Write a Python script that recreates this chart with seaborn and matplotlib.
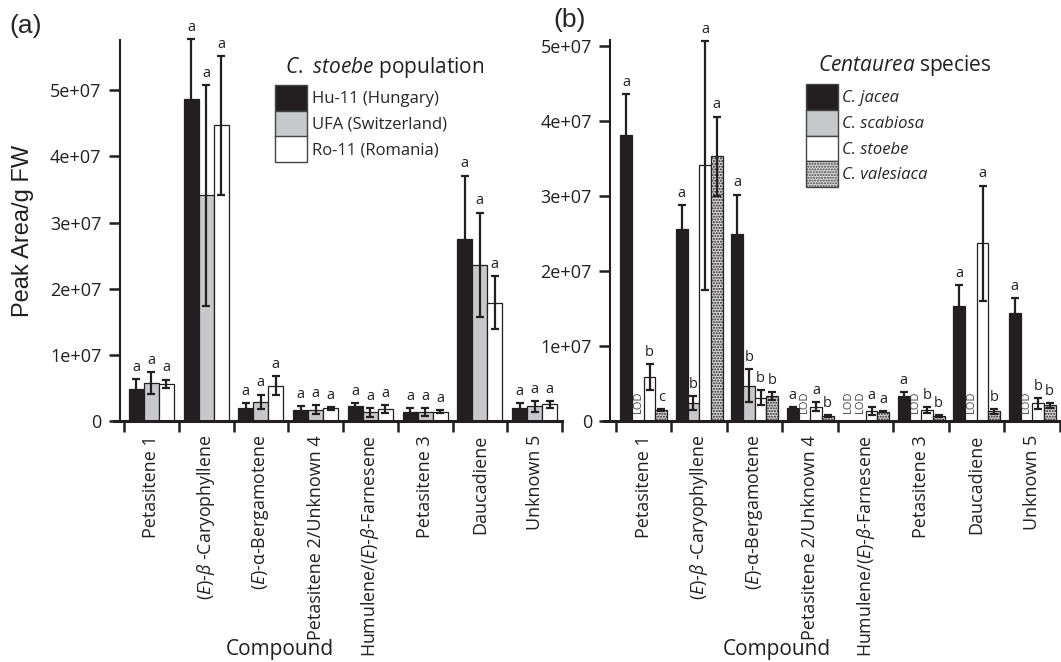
import numpy as np
import pandas as pd
import seaborn as sns
from matplotlib import pyplot as plt
from matplotlib.patches import Patch
from matplotlib.ticker import FuncFormatter

sns.set_style("ticks")
plt.rcParams["font.family"] = ["Open Sans", "DejaVu Sans"]
plt.rcParams["mathtext.fontset"] = "custom"
plt.rcParams["mathtext.rm"] = "Open Sans"
plt.rcParams["mathtext.it"] = "Open Sans:italic"
plt.rcParams["mathtext.bf"] = "Open Sans:bold"
plt.rcParams["hatch.color"] = "#555555"
plt.rcParams["hatch.linewidth"] = 1.0

# compounds (x axis, both panels)
compounds = ["Petasitene 1", r"($\mathit{E}$)-$\mathit{β}$ -Caryophyllene", r"($\mathit{E}$)-α-Bergamotene",
             "Petasitene 2/Unknown 4", r"Humulene/($\mathit{E}$)-$\mathit{β}$-Farnesene",
             "Petasitene 3", "Daucadiene", "Unknown 5"]

# panel (a): C. stoebe populations (means and SE, peak area / g FW)
pops = ["Hu-11 (Hungary)", "UFA (Switzerland)", "Ro-11 (Romania)"]
hu11 = [0.48e7, 4.87e7, 0.20e7, 0.17e7, 0.23e7, 0.14e7, 2.75e7, 0.20e7]
hu11_se = [0.15e7, 0.91e7, 0.07e7, 0.06e7, 0.04e7, 0.05e7, 0.96e7, 0.07e7]
ufa = [0.575e7, 3.41e7, 0.29e7, 0.17e7, 0.13e7, 0.13e7, 2.36e7, 0.22e7]
ufa_se = [0.17e7, 1.67e7, 0.11e7, 0.065e7, 0.07e7, 0.06e7, 0.79e7, 0.08e7]
ro11 = [0.565e7, 4.47e7, 0.535e7, 0.19e7, 0.18e7, 0.14e7, 1.79e7, 0.25e7]
ro11_se = [0.06e7, 1.05e7, 0.14e7, 0.02e7, 0.06e7, 0.025e7, 0.40e7, 0.05e7]
letters_a = [["a"] * 8, ["a"] * 8, ["a"] * 8]

# panel (b): Centaurea species (0 = below limit of detection)
species = ["C. jacea", "C. scabiosa", "C. stoebe", "C. valesiaca"]
jacea = [3.82e7, 2.56e7, 2.50e7, 0.18e7, 0, 0.33e7, 1.54e7, 1.44e7]
jacea_se = [0.54e7, 0.32e7, 0.52e7, 0.01e7, 0, 0.06e7, 0.27e7, 0.20e7]
scabiosa = [0, 0.24e7, 0.47e7, 0, 0, 0, 0, 0]
scabiosa_se = [0, 0.09e7, 0.22e7, 0, 0, 0, 0, 0]
stoebe = [0.584e7, 3.41e7, 0.31e7, 0.19e7, 0.133e7, 0.15e7, 2.37e7, 0.235e7]
stoebe_se = [0.17e7, 1.66e7, 0.10e7, 0.06e7, 0.057e7, 0.04e7, 0.77e7, 0.075e7]
valesiaca = [0.146e7, 3.53e7, 0.33e7, 0.066e7, 0.124e7, 0.066e7, 0.128e7, 0.208e7]
valesiaca_se = [0.01e7, 0.53e7, 0.055e7, 0.012e7, 0.01e7, 0.012e7, 0.035e7, 0.035e7]
letters_b = [["a", "a", "a", "a", "LOD", "a", "a", "a"],
             ["LOD", "b", "b", "LOD", "LOD", "LOD", "LOD", "LOD"],
             ["b", "a", "b", "a", "a", "b", "a", "b"],
             ["c", "a", "b", "b", "a", "b", "b", "b"]]

DARK = "#231f20"
GREY = "#c7c8ca"
W, H = 1061, 662


def fig_rect(x0, y0, x1, y1):
    return [x0 / W, 1 - y1 / H, (x1 - x0) / W, (y1 - y0) / H]


def draw_panel(ax, groups, means, ses, letters, colors, width, xleft, spine_x, ymax):
    df = pd.DataFrame({
        "compound": np.tile(compounds, len(groups)),
        "group": np.repeat(groups, len(compounds)),
        "value": np.concatenate(means),
    })
    sns.barplot(data=df, x="compound", y="value", hue="group", order=compounds,
                hue_order=groups, palette=colors, width=width, errorbar=None,
                legend=False, edgecolor=DARK, linewidth=0.9, saturation=1, ax=ax)
    bar_sets = list(ax.containers)
    for i, cont in enumerate(bar_sets):
        for j, bar in enumerate(cont):
            cx = bar.get_x() + bar.get_width() / 2
            top = means[i][j] + ses[i][j]
            if letters[i][j] == "LOD":
                ax.text(cx, 0.02 * ymax, "LOD", rotation=90, ha="center", va="bottom",
                        fontsize=8, color="#444444")
                continue
            eb = ax.errorbar(cx, means[i][j], yerr=ses[i][j], color=DARK, lw=1.6,
                             capsize=2.8, capthick=1.6)
            for art in eb.get_children():
                art.set_clip_on(False)
            ax.annotate(letters[i][j], (cx, top), xytext=(0, 3), textcoords="offset points",
                        ha="center", va="bottom", fontsize=10.5, color=DARK,
                        annotation_clip=False)
    ax.set_xlim(xleft, 7.5)
    ax.set_ylim(0, ymax)
    sns.despine(ax=ax)
    ax.spines["left"].set_position(("data", spine_x))
    ax.spines["left"].set_linewidth(1.5)
    ax.spines["bottom"].set_linewidth(2.2)
    ax.spines["left"].set_color(DARK)
    ax.spines["bottom"].set_color(DARK)
    ax.set_yticks(np.arange(0, ymax, 1e7))
    ax.yaxis.set_major_formatter(FuncFormatter(lambda v, _: "0" if v == 0 else f"{v:.0e}"))
    ax.set_xticks(np.arange(-0.5, 8), minor=True)
    ax.set_xticks(range(8))
    ax.set_xticklabels(compounds, rotation=90, va="top", ha="center")
    ax.tick_params(axis="x", which="major", length=0, pad=10, labelsize=13, colors="#231f20")
    ax.tick_params(axis="x", which="minor", length=8, width=1.8, direction="out", color=DARK)
    ax.tick_params(axis="y", length=8, width=1.8, pad=5, labelsize=13, color=DARK, labelcolor="#231f20")
    # labels set with mathtext come out wider; shrink those a bit
    for lab in ax.get_xticklabels():
        if "$" in lab.get_text():
            lab.set_fontsize(12.8)
    ax.set_xlabel("")
    ax.set_ylabel("")
    return bar_sets


fig = plt.figure(figsize=(10.61, 6.62), dpi=100)
ax_a = fig.add_axes(fig_rect(114, 40, 562, 421))
ax_b = fig.add_axes(fig_rect(604, 40, 1060, 421))

draw_panel(ax_a, pops, [hu11, ufa, ro11], [hu11_se, ufa_se, ro11_se], letters_a,
           [DARK, GREY, "white"], 0.82, -0.683, -0.582, 5.76e7)
bars_b = draw_panel(ax_b, species, [jacea, scabiosa, stoebe, valesiaca],
                    [jacea_se, scabiosa_se, stoebe_se, valesiaca_se], letters_b,
                    [DARK, GREY, "white", "#d9d9d9"], 0.84, -0.716, -0.608, 5.08e7)
for bar in bars_b[3]:
    bar.set_hatch("......")

fig.text(23 / W, 1 - 231 / H, "Peak Area/g FW", fontsize=17, rotation=90,
         ha="center", va="center", family="Liberation Sans", color=DARK)

# legends
hand_a = [Patch(facecolor=c, edgecolor="#444444", lw=1) for c in [DARK, GREY, "white"]]
fig.legend(hand_a, pops, loc="upper left", bbox_to_anchor=(275 / W, 1 - 85 / H),
           frameon=False, fontsize=12, handlelength=1.94, handleheight=2.0,
           labelspacing=0, handletextpad=0.25, borderpad=0, borderaxespad=0)
fig.text(285 / W, 1 - 67 / H, r"$\it{C.\ stoebe}$ population", fontsize=15, va="center", color=DARK)

hand_b = [Patch(facecolor=c, edgecolor="#444444", lw=1) for c in [DARK, GREY, "white", "#d9d9d9"]]
hand_b[3].set_hatch("......")
fig.legend(hand_b, species, loc="upper left", bbox_to_anchor=(806 / W, 1 - 84 / H),
           frameon=False, handlelength=1.9, handleheight=2.0,
           labelspacing=0, handletextpad=0.25, borderpad=0, borderaxespad=0,
           prop={"style": "italic", "size": 12})
fig.text(818 / W, 1 - 65 / H, r"$\it{Centaurea}$ species", fontsize=15, va="center", color=DARK)

fig.text(280 / W, 1 - 650 / H, "Compound", fontsize=15, ha="center", va="center", color=DARK)
fig.text(777 / W, 1 - 650 / H, "Compound", fontsize=15, ha="center", va="center", color=DARK)
fig.text(26 / W, 1 - 26 / H, "(a)", fontsize=19, ha="center", va="center", family="Liberation Sans")
fig.text(570 / W, 1 - 20 / H, "(b)", fontsize=19, ha="center", va="center", family="Liberation Sans")

fig.savefig("out.png", dpi=100)
